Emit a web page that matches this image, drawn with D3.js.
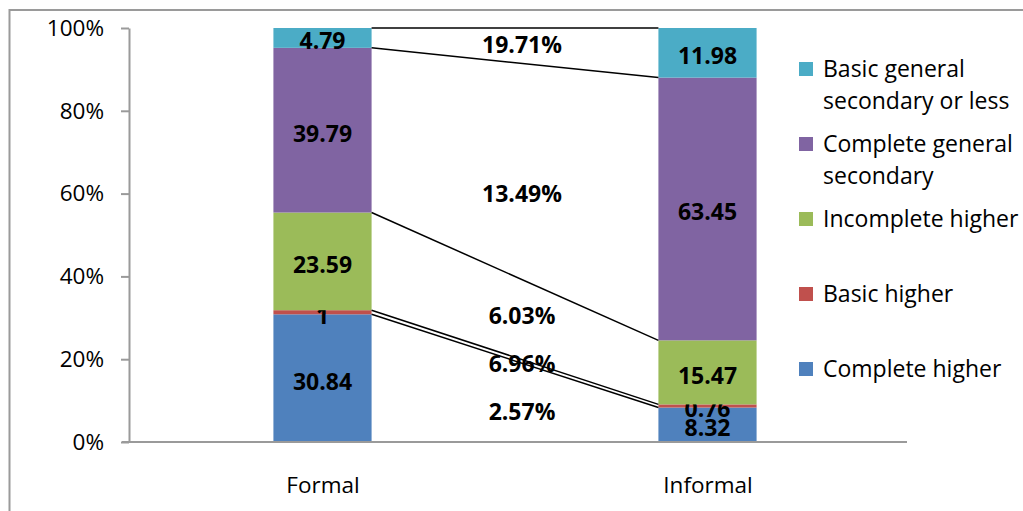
<!DOCTYPE html>
<html>
<head>
<meta charset="utf-8">
<script src="https://cdn.jsdelivr.net/npm/d3@7"></script>
<style>
  html, body { margin: 0; padding: 0; background: #fff; }
  svg { display: block; font-family: "Open Sans", "Noto Sans", sans-serif; }
</style>
</head>
<body>
<svg id="chart" width="1023" height="511"></svg>
<script>
// Education structure of formal vs informal employment, % of workers
const categories = ["Formal", "Informal"];
const levels = [
  "Complete higher",
  "Basic higher",
  "Incomplete higher",
  "Complete general secondary",
  "Basic general secondary or less"
];
const legendLabels = [
  ["Complete higher"],
  ["Basic higher"],
  ["Incomplete higher"],
  ["Complete general", "secondary"],
  ["Basic general", "secondary or less"]
];
const formalShares   = [30.84, 1, 23.59, 39.79, 4.79];
const informalShares = [8.32, 0.76, 15.47, 63.45, 11.98];
const colors = ["#4F81BD", "#C0504D", "#9BBB59", "#8064A2", "#4BACC6"];

// Shift annotations written between the bars and the share level (%) each sits at
const shiftLabels      = ["2.57%", "6.96%", "6.03%", "13.49%", "19.71%"];
const shiftLabelLevels = [7.2, 18.8, 30.4, 60, 95.8];

const yTicks = [0, 20, 40, 60, 80, 100];

const svg = d3.select("#chart");

// Chart frame
svg.append("rect")
  .attr("x", 9.5).attr("y", 10)
  .attr("width", 1100).attr("height", 600)
  .attr("fill", "none").attr("stroke", "#9a9a9a").attr("stroke-width", 2);

const rows = categories.map((c, i) => {
  const src = i === 0 ? formalShares : informalShares;
  const r = { category: c };
  levels.forEach((k, j) => { r[k] = src[j]; });
  return r;
});

const series = d3.stack().keys(levels).offset(d3.stackOffsetExpand)(rows);

const x = d3.scalePoint().domain(categories).range([130, 900]).padding(0.5);
const barW = x.step() * 0.255;
const y = d3.scaleLinear().domain([0, 1]).range([442, 28]);
const yPct = d3.scaleLinear().domain([0, 100]).range([442, 28]);

// Y axis
const yAxis = svg.append("g")
  .attr("transform", "translate(129,0)")
  .call(d3.axisLeft(yPct).tickValues(yTicks).tickSize(8).tickSizeOuter(0)
    .tickPadding(17).tickFormat(d => d + "%"));
yAxis.select(".domain").attr("stroke", "#9a9a9a").attr("stroke-width", 2);
yAxis.selectAll(".tick line").attr("stroke", "#9a9a9a").attr("stroke-width", 2);
yAxis.selectAll(".tick text")
  .attr("fill", "#000").attr("font-size", 22.5)
  .attr("font-family", "'Open Sans', sans-serif");

// Bars
const layer = svg.append("g").selectAll("g").data(series).join("g")
  .attr("fill", (d, i) => colors[i]);
layer.selectAll("rect").data(d => d).join("rect")
  .attr("x", d => x(d.data.category) - barW / 2)
  .attr("width", barW)
  .attr("y", d => y(Math.min(d[1], 1)))
  .attr("height", d => y(d[0]) - y(Math.min(d[1], 1)));

// X axis
const xAxis = svg.append("g")
  .attr("transform", "translate(0,442)")
  .call(d3.axisBottom(x).tickSize(0).tickPadding(35));
xAxis.select(".domain").attr("d", "M122,0H907").attr("stroke", "#9a9a9a").attr("stroke-width", 2);
xAxis.selectAll(".tick text")
  .attr("fill", "#000").attr("font-size", 22.5)
  .attr("font-family", "'Open Sans', sans-serif");

// Connector lines between matching segment boundaries
const fx = x(categories[0]) + barW / 2;
const ix = x(categories[1]) - barW / 2;
svg.append("g").selectAll("line").data(series).join("line")
  .attr("x1", fx).attr("x2", ix)
  .attr("y1", d => y(Math.min(d[0][1], 1)))
  .attr("y2", d => y(Math.min(d[1][1], 1)))
  .attr("stroke", "#000").attr("stroke-width", 1.5);

// Value labels inside segments
layer.selectAll("text").data((d, i) => d.map(p => ({ p, v: rows.indexOf(p.data) === 0 ? formalShares[i] : informalShares[i] })))
  .join("text")
  .attr("x", d => x(d.p.data.category))
  .attr("y", d => (y(d.p[0]) + y(Math.min(d.p[1], 1))) / 2 + 11.5)
  .attr("text-anchor", "middle")
  .attr("font-size", 23).attr("font-weight", "bold").attr("fill", "#000")
  .text(d => d.v);

// Shift annotations
svg.append("g").selectAll("text").data(shiftLabels).join("text")
  .attr("x", 522)
  .attr("y", (d, i) => yPct(shiftLabelLevels[i]) + 8)
  .attr("text-anchor", "middle")
  .attr("font-size", 23).attr("font-weight", "bold").attr("fill", "#000")
  .text(d => d);

// Legend, top entry first
const legendOrder = d3.range(levels.length).reverse();
const lg = svg.append("g").selectAll("g").data(legendOrder).join("g")
  .attr("transform", (d, k) => `translate(799,${69 + k * 75})`);
lg.append("rect")
  .attr("x", 0).attr("y", -7).attr("width", 14).attr("height", 14)
  .attr("fill", i => colors[i]);
lg.append("text")
  .attr("x", 24).attr("y", 8)
  .attr("font-size", 23).attr("fill", "#000")
  .selectAll("tspan").data(i => legendLabels[i]).join("tspan")
  .attr("x", 24).attr("dy", (d, j) => j === 0 ? 0 : 32)
  .text(d => d);
</script>
</body>
</html>
